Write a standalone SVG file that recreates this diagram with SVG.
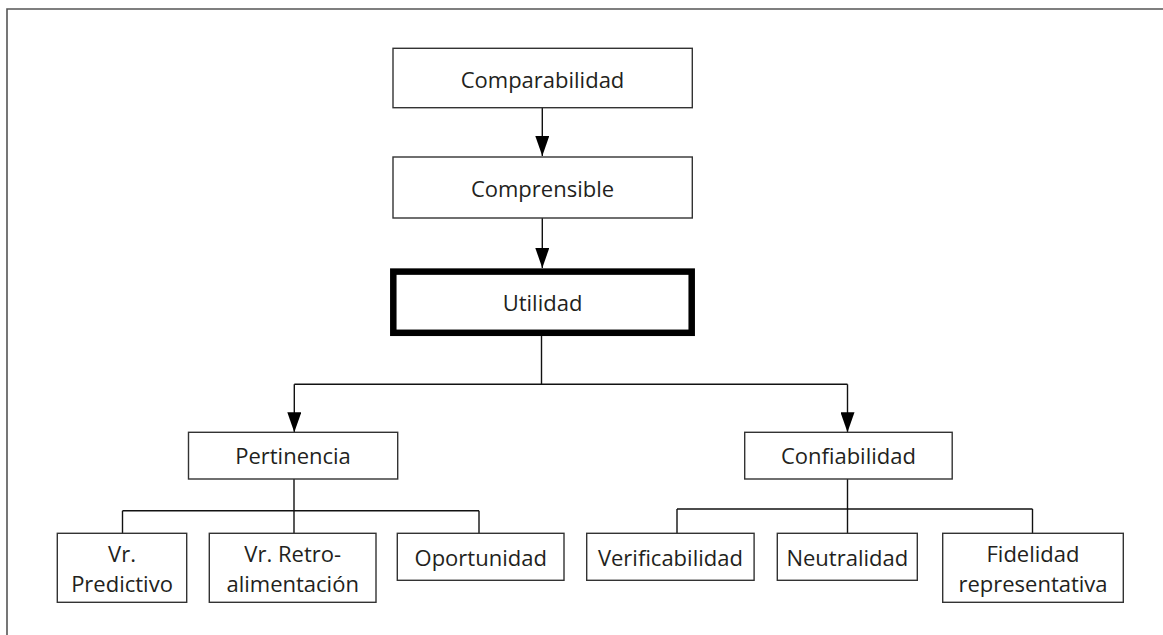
<svg xmlns="http://www.w3.org/2000/svg" width="1163" height="635" viewBox="0 0 1163 635">
<style>
.box{fill:#fff;stroke:#333;stroke-width:1.4}
.main{fill:#fff;stroke:#000;stroke-width:6.5}
.lbl{font-family:"Open Sans","Liberation Sans",sans-serif;font-size:22px;fill:#231f20;text-anchor:middle}
.ln{fill:none;stroke:#111;stroke-width:1.4}
.frame{fill:none;stroke:#555;stroke-width:1.6}
</style>
<defs>
<marker id="arr" markerWidth="20" markerHeight="14" refX="20" refY="7" viewBox="0 0 20 14" markerUnits="userSpaceOnUse" orient="auto">
<path d="M0,0 L20,7 L0,14 Z" fill="#000"/>
</marker>
</defs>
<rect width="1163" height="635" fill="#fff"/>
<path class="frame" d="M7,635 V9 H1163"/>
<g id="connectors">
<line class="ln" x1="542.3" y1="107.7" x2="542.3" y2="156" marker-end="url(#arr)"/>
<line class="ln" x1="542.3" y1="218" x2="542.3" y2="268" marker-end="url(#arr)"/>
<line class="ln" x1="541.5" y1="336" x2="541.5" y2="384.3"/>
<line class="ln" x1="294.3" y1="384.3" x2="847.5" y2="384.3"/>
<line class="ln" x1="294.3" y1="384.3" x2="294.3" y2="432.3" marker-end="url(#arr)"/>
<line class="ln" x1="847.5" y1="384.3" x2="847.5" y2="432.3" marker-end="url(#arr)"/>
<line class="ln" x1="294" y1="479" x2="294" y2="533.3"/>
<line class="ln" x1="122.5" y1="510.8" x2="479" y2="510.8"/>
<line class="ln" x1="122.5" y1="510.8" x2="122.5" y2="533.3"/>
<line class="ln" x1="479" y1="510.8" x2="479" y2="533.3"/>
<line class="ln" x1="847.5" y1="479" x2="847.5" y2="533.3"/>
<line class="ln" x1="677" y1="509" x2="1032.5" y2="509"/>
<line class="ln" x1="677" y1="509" x2="677" y2="533.3"/>
<line class="ln" x1="1032.5" y1="509" x2="1032.5" y2="533.3"/>
</g>
<g id="comparabilidad"><rect class="box" x="393" y="48.3" width="299.3" height="59.4"/><text class="lbl" x="542.5" y="87.5">Comparabilidad</text></g>
<g id="comprensible"><rect class="box" x="393" y="157" width="299.3" height="61"/><text class="lbl" x="542.5" y="196.7">Comprensible</text></g>
<g id="utilidad"><rect class="main" x="393.3" y="271.6" width="298.4" height="61.2"/><text class="lbl" x="542.5" y="310.5">Utilidad</text></g>
<g id="pertinencia"><rect class="box" x="188.5" y="432.3" width="209.2" height="46.7"/><text class="lbl" x="293" y="464.3">Pertinencia</text></g>
<g id="confiabilidad"><rect class="box" x="744.7" y="432.3" width="207.5" height="46.7"/><text class="lbl" x="848.4" y="464.3">Confiabilidad</text></g>
<g id="vr-predictivo"><rect class="box" x="57.3" y="533.3" width="129.4" height="69"/><text class="lbl" x="122" y="562">Vr.</text><text class="lbl" x="122" y="592">Predictivo</text></g>
<g id="vr-retro"><rect class="box" x="209.3" y="533.3" width="166.7" height="69"/><text class="lbl" x="292.7" y="562">Vr. Retro-</text><text class="lbl" x="292.7" y="592">alimentación</text></g>
<g id="oportunidad"><rect class="box" x="397.3" y="533.3" width="166.7" height="47"/><text class="lbl" x="480.7" y="565.5">Oportunidad</text></g>
<g id="verificabilidad"><rect class="box" x="586.7" y="533.3" width="167.4" height="47"/><text class="lbl" x="670.4" y="565.5">Verificabilidad</text></g>
<g id="neutralidad"><rect class="box" x="777.3" y="533.3" width="140" height="47"/><text class="lbl" x="847.3" y="565.5">Neutralidad</text></g>
<g id="fidelidad"><rect class="box" x="942.7" y="533.3" width="180.6" height="69"/><text class="lbl" x="1033" y="562">Fidelidad</text><text class="lbl" x="1033" y="592">representativa</text></g>
</svg>
